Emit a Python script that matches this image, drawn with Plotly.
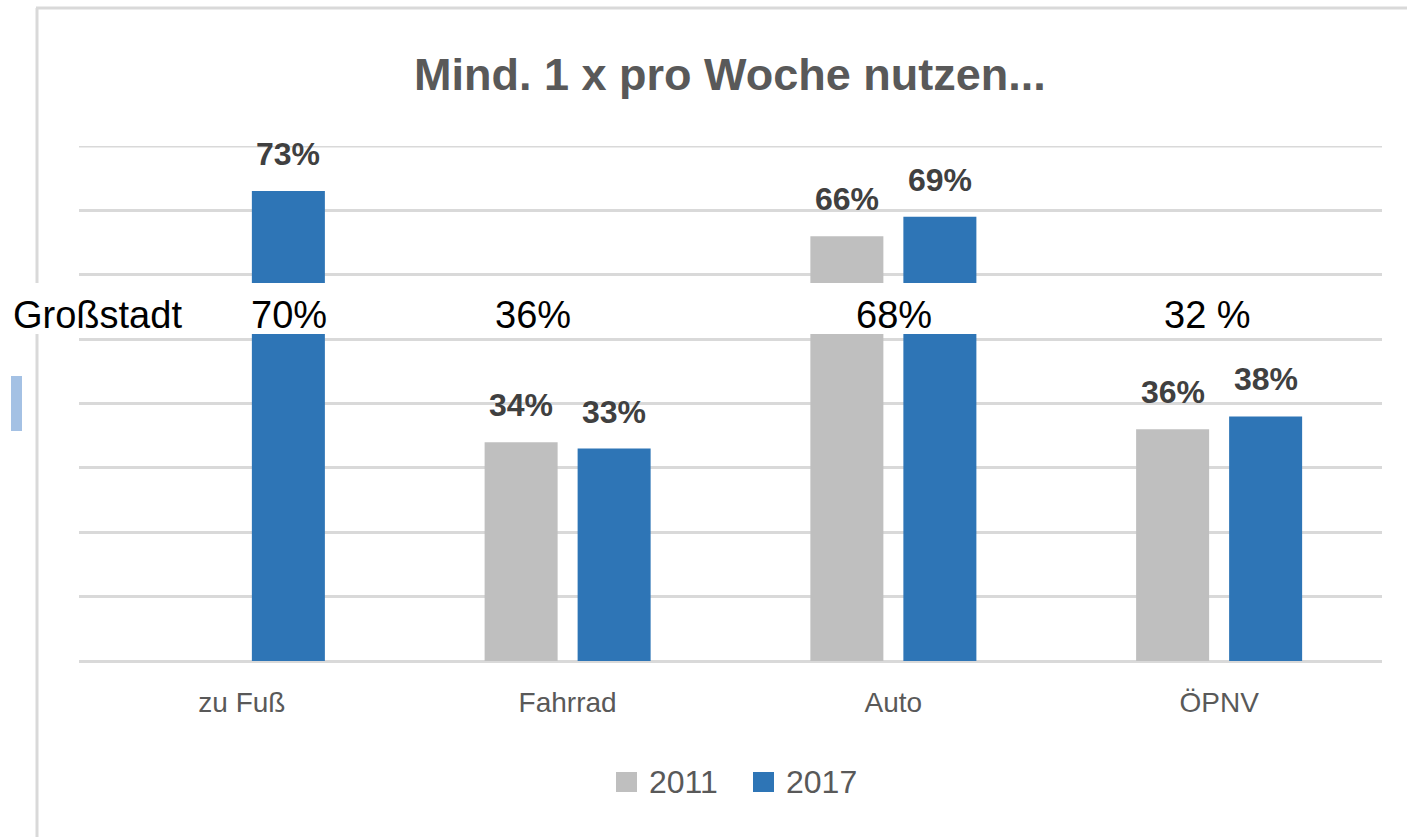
import plotly.graph_objects as go

# ---- data ----
categories = ["zu Fuß", "Fahrrad", "Auto", "ÖPNV"]
series_names = ["2011", "2017"]
values_2011 = [None, 34, 66, 36]
values_2017 = [73, 33, 69, 38]
grossstadt_label = "Großstadt"
grossstadt_values = ["70%", "36%", "68%", "32 %"]
title_text = "Mind. 1 x pro Woche nutzen..."

# ---- styles ----
W, H = 1407, 837
L, R, T, B = 79, 25, 146, 176
FONT = "Liberation Sans Narrow, Arial Narrow, Liberation Sans, Arial, sans-serif"
GREY = "#bfbfbf"
BLUE = "#2e75b6"
GRID = "#d9d9d9"

def px(x):
    return (x - L) / (W - L - R)

def py(y):
    return (H - B - y) / (H - T - B)

fig = go.Figure()
colors = [GREY, BLUE]
for name, vals, col in zip(series_names, [values_2011, values_2017], colors):
    fig.add_trace(go.Bar(x=categories, y=vals, name=name, marker=dict(color=col, line=dict(width=0)),
                         showlegend=False, hoverinfo="skip"))

annotations = []
# data labels
offsets = [-46.5, 46.5]
for vals, off in zip([values_2011, values_2017], offsets):
    for c, v in zip(categories, vals):
        if v is None:
            continue
        annotations.append(dict(x=c, y=v, xref="x", yref="y", text=f"<b>{v}%</b>", showarrow=False,
                                xshift=off, yshift=37, yanchor="middle", xanchor="center",
                                font=dict(family=FONT, size=32, color="#404040")))

# title
annotations.append(dict(x=px(730), y=py(74), xref="paper", yref="paper", text=f"<b>{title_text}</b>",
                        showarrow=False, xanchor="center", yanchor="middle",
                        font=dict(family=FONT, size=45, color="#595959")))

shapes = []
# frame lines
shapes.append(dict(type="line", xref="paper", yref="paper", x0=px(36), x1=px(1410), y0=py(8), y1=py(8),
                   line=dict(color=GRID, width=3), layer="below"))
shapes.append(dict(type="line", xref="paper", yref="paper", x0=px(37), x1=px(37), y0=py(8), y1=py(840),
                   line=dict(color=GRID, width=3), layer="below"))
# top grid line at 80 %
shapes.append(dict(type="line", xref="paper", yref="y", x0=0, x1=1, y0=80, y1=80,
                   line=dict(color=GRID, width=3), layer="below"))
# small blue marker at left
shapes.append(dict(type="rect", xref="paper", yref="paper", x0=px(11), x1=px(22), y0=py(376), y1=py(431),
                   fillcolor="#a4c1e4", line=dict(width=0), layer="above"))
# white overlay band
shapes.append(dict(type="rect", xref="paper", yref="paper", x0=px(0), x1=px(W), y0=py(283), y1=py(334),
                   fillcolor="white", line=dict(width=0), layer="above"))

# overlay texts
annotations.append(dict(x=px(11), y=py(315), xref="paper", yref="paper", text=grossstadt_label,
                        showarrow=False, xanchor="left", yanchor="middle",
                        font=dict(family=FONT, size=38, color="#000000")))
g_centers = [289, 533, 894, 1207]
for t, cx in zip(grossstadt_values, g_centers):
    annotations.append(dict(x=px(cx), y=py(315), xref="paper", yref="paper", text=t,
                            showarrow=False, xanchor="center", yanchor="middle",
                            font=dict(family=FONT, size=38, color="#000000")))

# custom legend
leg = [(616, 637, GREY, 647), (753, 774, BLUE, 784)]
for (x0, x1, col, tx), name in zip(leg, series_names):
    shapes.append(dict(type="rect", xref="paper", yref="paper", x0=px(x0), x1=px(x1), y0=py(772), y1=py(792),
                       fillcolor=col, line=dict(width=0)))
    annotations.append(dict(x=px(tx), y=py(782), xref="paper", yref="paper", text=name, showarrow=False,
                            xanchor="left", yanchor="middle",
                            font=dict(family=FONT, size=32, color="#595959")))

fig.update_layout(
    width=W, height=H,
    margin=dict(l=L, r=R, t=T, b=B, pad=0),
    paper_bgcolor="white", plot_bgcolor="white",
    barmode="group", bargap=0.429, bargroupgap=0.215,
    showlegend=False,
    annotations=annotations, shapes=shapes,
    xaxis=dict(showgrid=False, showline=False, zeroline=False, ticks="outside", ticklen=16,
               tickcolor="rgba(0,0,0,0)", tickfont=dict(family=FONT, size=28, color="#595959")),
    yaxis=dict(range=[0, 80], dtick=10, showgrid=True, gridcolor=GRID, gridwidth=3,
               zeroline=True, zerolinecolor=GRID, zerolinewidth=3, showticklabels=False),
)

fig.write_html("out.html", config={"displayModeBar": False},
               post_script="document.body.style.margin='0';document.body.style.padding='0';")
